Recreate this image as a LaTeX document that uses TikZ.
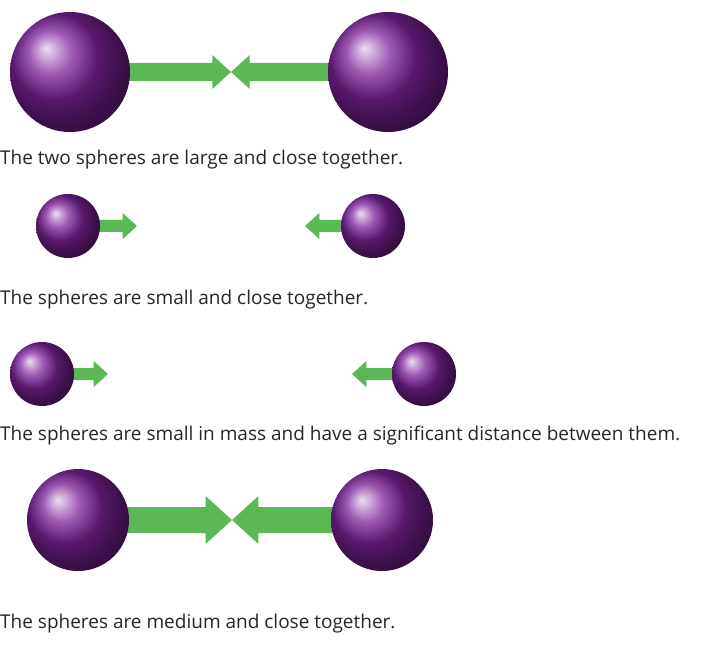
\documentclass[tikz,border=0pt]{standalone}
\usepackage{fontspec}
\setmainfont{Open Sans}
\definecolor{sph}{RGB}{125,35,155}
\definecolor{grn}{RGB}{92,184,84}
\tikzset{x=1pt,y=-1pt,
 ball/.style={circle,shading=ball,ball color=sph,inner sep=0pt,minimum size=#1},
 captext/.style={anchor=west,inner sep=0pt,font=\fontsize{19}{22}\selectfont,text=black!85}}
\newcommand{\garrow}[5]{% from x1, to x2, y, shaft half, head half
 \pgfmathsetmacro{\hl}{(#2>#1?-1:1)*#5*1.1}
 \fill[grn] (#1,#3-#4) -- (#2+\hl,#3-#4) -- (#2+\hl,#3-#5) -- (#2,#3) -- (#2+\hl,#3+#5) -- (#2+\hl,#3+#4) -- (#1,#3+#4) -- cycle;}
\begin{document}
\begin{tikzpicture}
\useasboundingbox (0,0) rectangle (706,660);
% row 1
\garrow{120}{231}{72}{9}{17}
\garrow{340}{231}{72}{9}{17}
\node[ball=120pt] (a1) at (70,72) {};
\node[ball=120pt] (b1) at (388,72) {};
\node[captext] (t1) at (0,160) {The two spheres are large and close together.};
% row 2
\garrow{90}{137}{226}{6}{13}
\garrow{350}{305}{226}{6}{13}
\node[ball=64pt] (a2) at (68,226) {};
\node[ball=64pt] (b2) at (373,226) {};
\node[captext] (t2) at (0,300) {The spheres are small and close together.};
% row 3
\garrow{64}{108}{374}{6}{13}
\garrow{400}{352}{374}{6}{13}
\node[ball=64pt] (a3) at (42,374) {};
\node[ball=64pt] (b3) at (424,374) {};
\node[captext] (t3) at (0,436) {The spheres are small in mass and have a significant distance between them.};
% row 4
\garrow{120}{232}{520}{13}{24}
\garrow{340}{232}{520}{13}{24}
\node[ball=102pt] (a4) at (78,520) {};
\node[ball=102pt] (b4) at (382,520) {};
\node[captext] (t4) at (0,624) {The spheres are medium and close together.};
\end{tikzpicture}
\end{document}
